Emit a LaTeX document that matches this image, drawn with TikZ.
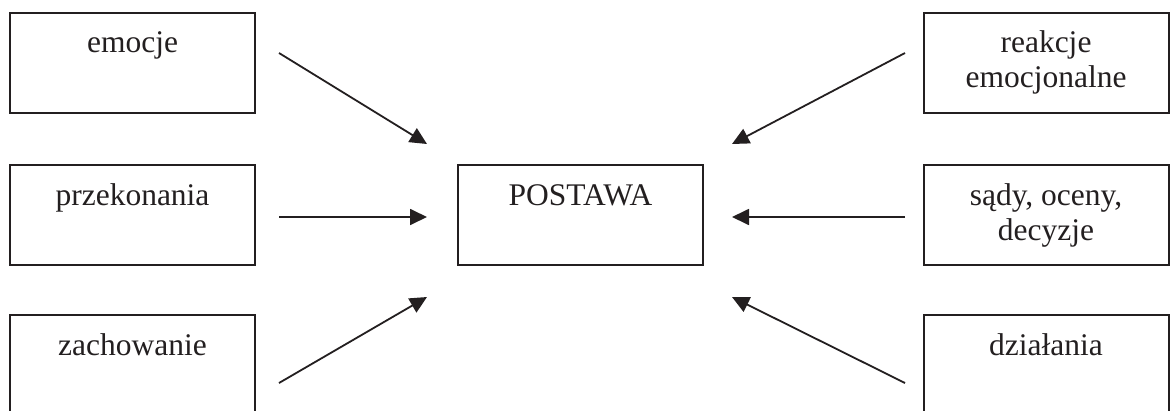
\documentclass[tikz,border=0pt]{standalone}
\usepackage{fontspec}
\setmainfont{Liberation Serif}
\usetikzlibrary{arrows.meta}
\definecolor{ink}{HTML}{231F20}
\begin{document}
\begin{tikzpicture}[x=1pt,y=-1pt,
  box/.style={draw=ink,line width=2pt,minimum width=245pt,minimum height=100pt,inner sep=0pt},
  lbl/.style={anchor=base,text=ink,font=\fontsize{31.5}{35}\selectfont,align=center,inner sep=0pt},
  arr/.style={draw=ink,line width=1.8pt,-{Triangle[length=17pt,width=16pt]}}]
\useasboundingbox (0,0) rectangle (1171,410);
\clip (0,0) rectangle (1171,410);

% boxes
\node[box] (emo)  at (132.5,62.5)  {};
\node[box] (prz)  at (132.5,215)   {};
\node[box] (zach) at (132.5,365)   {};
\node[box] (post) at (580.5,215)   {};
\node[box] (reak) at (1046,62.5)   {};
\node[box] (sad)  at (1046,215)    {};
\node[box] (dzia) at (1046,365)    {};

% labels, first baseline 41pt below the top edge
\node[lbl] (temo)   at ([yshift=-41pt]emo.north)  {emocje};
\node[lbl] (tprz)   at ([yshift=-41pt]prz.north)  {przekonania};
\node[lbl] (tzach)  at ([yshift=-41pt]zach.north) {zachowanie};
\node[lbl] (tpost)  at ([yshift=-41pt]post.north) {POSTAWA};
\node[lbl] (treak1) at ([yshift=-41pt]reak.north) {reakcje};
\node[lbl] (treak2) at ([yshift=-76pt]reak.north) {emocjonalne};
\node[lbl] (tsad1)  at ([yshift=-41pt]sad.north)  {sądy, oceny,};
\node[lbl] (tsad2)  at ([yshift=-76pt]sad.north)  {decyzje};
\node[lbl] (tdzia)  at ([yshift=-41pt]dzia.north) {działania};

% arrow ends
\coordinate (a1s) at (279,53);  \coordinate (a1t) at (427,144);
\coordinate (a2s) at (279,217); \coordinate (a2t) at (427,217);
\coordinate (a3s) at (279,383); \coordinate (a3t) at (427,297);
\coordinate (b1s) at (905,53);  \coordinate (b1t) at (732,144);
\coordinate (b2s) at (905,217); \coordinate (b2t) at (732,217);
\coordinate (b3s) at (905,383); \coordinate (b3t) at (732,297);

\draw[arr] (a1s) -- (a1t);
\draw[arr] (a2s) -- (a2t);
\draw[arr] (a3s) -- (a3t);
\draw[arr] (b1s) -- (b1t);
\draw[arr] (b2s) -- (b2t);
\draw[arr] (b3s) -- (b3t);
\end{tikzpicture}
\end{document}
